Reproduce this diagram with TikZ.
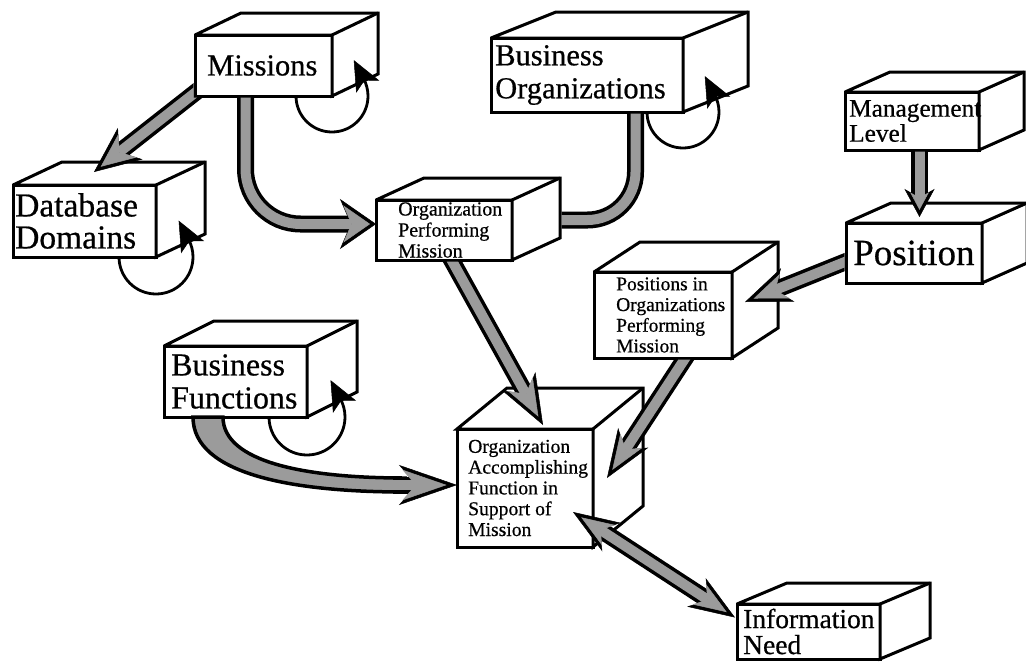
\documentclass[tikz,border=0pt]{standalone}
\usepackage{fontspec}
\setmainfont{Liberation Serif}[FakeBold=0.6]
\usetikzlibrary{arrows.meta,calc}
\definecolor{tubegray}{RGB}{155,155,155}

\tikzset{
  box/.style={draw=black, fill=white, line width=3pt, outer sep=0pt, inner sep=0pt, anchor=north west},
  face/.style={draw=black, fill=white, line width=3pt, line join=miter, miter limit=3},
  lbl/.style={anchor=west, align=left, inner sep=0pt, text=black},
  tubeo/.style={draw=black, line width=17pt},
  tubei/.style={draw=tubegray, line width=10pt},
  tapered/.style={draw=black, fill=tubegray, line width=3.5pt},
  loopline/.style={draw=black, line width=2.8pt, -{Stealth[length=30pt,width=26pt,inset=7pt,line width=0.5pt]}},
  % outer (black) head of a tube: length #1, width #2
  tipout/.code 2 args={%
    \pgfmathsetmacro\hdI{0.3*#1}%
    \edef\hdtmp{\noexpand\tikzset{-{Stealth[length=#1pt,width=#2pt,inset=\hdI pt,line width=0.5pt]}}}%
    \hdtmp},
  % inner (grey) head, set back so that a black rim remains
  tipin/.code 2 args={%
    \pgfmathsetmacro\hdS{3.4/sin(atan(#2/(2*#1)))}%
    \pgfmathsetmacro\hdL{#1-\hdS-3.4}%
    \pgfmathsetmacro\hdW{\hdL*#2/#1}%
    \pgfmathsetmacro\hdI{0.3*\hdL}%
    \edef\hdtmp{\noexpand\tikzset{shorten >=\hdS pt,-{Stealth[length=\hdL pt,width=\hdW pt,inset=\hdI pt,line width=0.5pt]}}}%
    \hdtmp},
  tipoutboth/.code 2 args={%
    \pgfmathsetmacro\hdI{0.3*#1}%
    \edef\hdtmp{\noexpand\tikzset{{Stealth[length=#1pt,width=#2pt,inset=\hdI pt,line width=0.5pt]}-{Stealth[length=#1pt,width=#2pt,inset=\hdI pt,line width=0.5pt]}}}%
    \hdtmp},
  tipinboth/.code 2 args={%
    \pgfmathsetmacro\hdS{3.4/sin(atan(#2/(2*#1)))}%
    \pgfmathsetmacro\hdL{#1-\hdS-3.4}%
    \pgfmathsetmacro\hdW{\hdL*#2/#1}%
    \pgfmathsetmacro\hdI{0.3*\hdL}%
    \edef\hdtmp{\noexpand\tikzset{shorten >=\hdS pt,shorten <=\hdS pt,{Stealth[length=\hdL pt,width=\hdW pt,inset=\hdI pt,line width=0.5pt]}-{Stealth[length=\hdL pt,width=\hdW pt,inset=\hdI pt,line width=0.5pt]}}}%
    \hdtmp},
}

% top and side faces of a box whose front is node #1, depth (#2,#3)
\newcommand\boxfaces[3]{%
  \draw[face] (#1.north west) -- ++(#2,-#3) -- ([shift={(#2,-#3)}]#1.north east)
    -- ([shift={(#2,-#3)}]#1.south east) -- (#1.south east) -- (#1.north east) -- cycle;
  \draw[face, fill=none] (#1.north east) -- ++(#2,-#3);}

% grey tube with black rim and an arrow head (length #2, width #3)
\newcommand\conduit[4][]{%
  \draw[tubeo,#1,tipout={#2}{#3}] #4;
  \draw[tubei,#1,tipin={#2}{#3}] #4;}

% keep a tube out of the front face of node #1
\newcommand\cliphole[1]{%
  \clip (-50,-50) rectangle (1100,720)
    ([shift={(-1.5,1.5)}]#1.south west) rectangle ([shift={(1.5,-1.5)}]#1.north east);}

\begin{document}
\begin{tikzpicture}[x=1pt, y=-1pt]
\useasboundingbox (0,0) rectangle (1026,662);
\fill[white] (0,0) rectangle (1026,662);

% ---------- boxes ----------
\node[box, minimum width=137pt, minimum height=61pt] (mis) at (195,35) {};
\boxfaces{mis}{46}{22}
\node[lbl, font=\fontsize{30.5}{33}\selectfont] (mis-t) at ($(mis.west)+(12,0)$) {Missions};

\node[box, minimum width=192pt, minimum height=74pt] (bo) at (491,38) {};
\boxfaces{bo}{65}{26}
\node[lbl, font=\fontsize{30.5}{33}\selectfont] (bo-t) at ($(bo.west)+(4,0)$) {Business\\Organizations};

\node[box, minimum width=143pt, minimum height=72pt] (dd) at (13,185) {};
\boxfaces{dd}{49}{23}
\node[lbl, font=\fontsize{33.5}{32}\selectfont] (dd-t) at ($(dd.west)+(2,0)$) {Database\\Domains};

\node[box, minimum width=136pt, minimum height=60pt] (opm) at (376,200) {};
\boxfaces{opm}{48}{22}
\node[lbl, font=\fontsize{20}{21}\selectfont] (opm-t) at ($(opm.west)+(22,0)$) {Organization\\Performing\\Mission};

\node[box, minimum width=134pt, minimum height=58pt] (ml) at (845,92) {};
\boxfaces{ml}{45}{20}
\node[lbl, font=\fontsize{25.3}{25}\selectfont] (ml-t) at ($(ml.west)+(4,0)$) {Management\\Level};

\node[box, minimum width=136pt, minimum height=60pt] (pos) at (846,223) {};
\boxfaces{pos}{45}{20}
\node[lbl, font=\fontsize{37}{40}\selectfont] (pos-t) at ($(pos.west)+(7,0)$) {Position};

\node[box, minimum width=138pt, minimum height=86pt] (piopm) at (594,272) {};
\boxfaces{piopm}{46}{30}
\node[lbl, font=\fontsize{19.5}{20.7}\selectfont] (piopm-t) at ($(piopm.west)+(22,0)$) {Positions in\\Organizations\\Performing\\Mission};

\node[box, minimum width=143pt, minimum height=71pt] (bf) at (164,346) {};
\boxfaces{bf}{50}{25}
\node[lbl, font=\fontsize{32}{33}\selectfont] (bf-t) at ($(bf.west)+(7,0)$) {Business\\Functions};

\node[box, minimum width=136pt, minimum height=118pt] (oaf) at (457,429) {};
\boxfaces{oaf}{50}{41}
\node[lbl, font=\fontsize{19.6}{20.8}\selectfont] (oaf-t) at ($(oaf.west)+(11,0)$) {Organization\\Accomplishing\\Function in\\Support of\\Mission};

\node[box, minimum width=143pt, minimum height=55pt] (in) at (737,604) {};
\boxfaces{in}{50}{21}
\node[lbl, font=\fontsize{27.5}{26}\selectfont] (in-t) at ($(in.west)+(6,0)$) {Information\\Need};

% ---------- self loops ----------
\draw[loopline] ([xshift=-36pt]mis.south east) arc[start angle=180, end angle=388, radius=36pt] -- ++(-10,-19);
\draw[loopline] ([xshift=-36pt]bo.south east) arc[start angle=180, end angle=388, radius=36pt] -- ++(-10,-19);
\draw[loopline] ([xshift=-37pt]dd.south east) arc[start angle=180, end angle=388, radius=37pt] -- ++(-10,-19);
\draw[loopline] ([xshift=-38pt]bf.south east) arc[start angle=180, end angle=388, radius=38pt] -- ++(-10,-19);

% ---------- tubes ----------
\begin{scope}
  \cliphole{mis}
  \conduit{46}{40}{($(mis.south west)+(15,-15)$) -- ($(dd.north west)+(81,-13)$)}
  \conduit[rounded corners=55pt]{36}{50}{($(mis.south west)+(50.5,0)$) |- ($(opm.west)+(0,-6)$)}
\end{scope}

\begin{scope}
  \cliphole{bo}
  \draw[tubeo, rounded corners=48pt] ($(bo.south west)+(144.5,0)$) |- ($(opm.east)+(49.5,-10)$);
  \draw[tubei, rounded corners=48pt] ($(bo.south west)+(144.5,0)$) |- ($(opm.east)+(49.5,-10)$);
\end{scope}

\begin{scope}
  \cliphole{opm}
  \conduit{50}{38}{($(opm.south west)+(70,-10)$) -- ($(oaf.north west)+(86,-4)$)}
\end{scope}

\begin{scope}
  \cliphole{ml}
  \conduit{28}{30}{($(ml.south west)+(74.5,0)$) -- ($(pos.north west)+(73.5,-6)$)}
\end{scope}

\begin{scope}
  \cliphole{pos}
  \conduit{46}{36}{($(pos.west)+(10,4.5)$) -- ($(piopm.east)+(13,-13)$)}
\end{scope}

\begin{scope}
  \cliphole{piopm}
  \conduit{48}{36}{($(piopm.south west)+(96.5,-8)$) -- ($(oaf.east)+(14,-10)$)}
\end{scope}

% widening sweep from Business Functions into the last straight stretch
\draw[tapered] ($(bf.south west)+(29,0)$) .. controls +(0,58) and +(-110,0) .. ($(oaf.west)+(-52,4)$)
  -- ($(oaf.west)+(-52,-10)$) .. controls +(-100,0) and +(0,45) .. ($(bf.south west)+(59,0)$) -- cycle;
\conduit{58}{40}{($(oaf.west)+(-64,-3)$) -- ($(oaf.west)+(0,-3)$)}

% two-way tube
\draw[tubeo, tipoutboth={46}{34}] ($(oaf.south east)+(-20,-35)$) -- ($(in.west)+(-2,-14)$);
\draw[tubei, tipinboth={46}{34}] ($(oaf.south east)+(-20,-35)$) -- ($(in.west)+(-2,-14)$);

\end{tikzpicture}
\end{document}
